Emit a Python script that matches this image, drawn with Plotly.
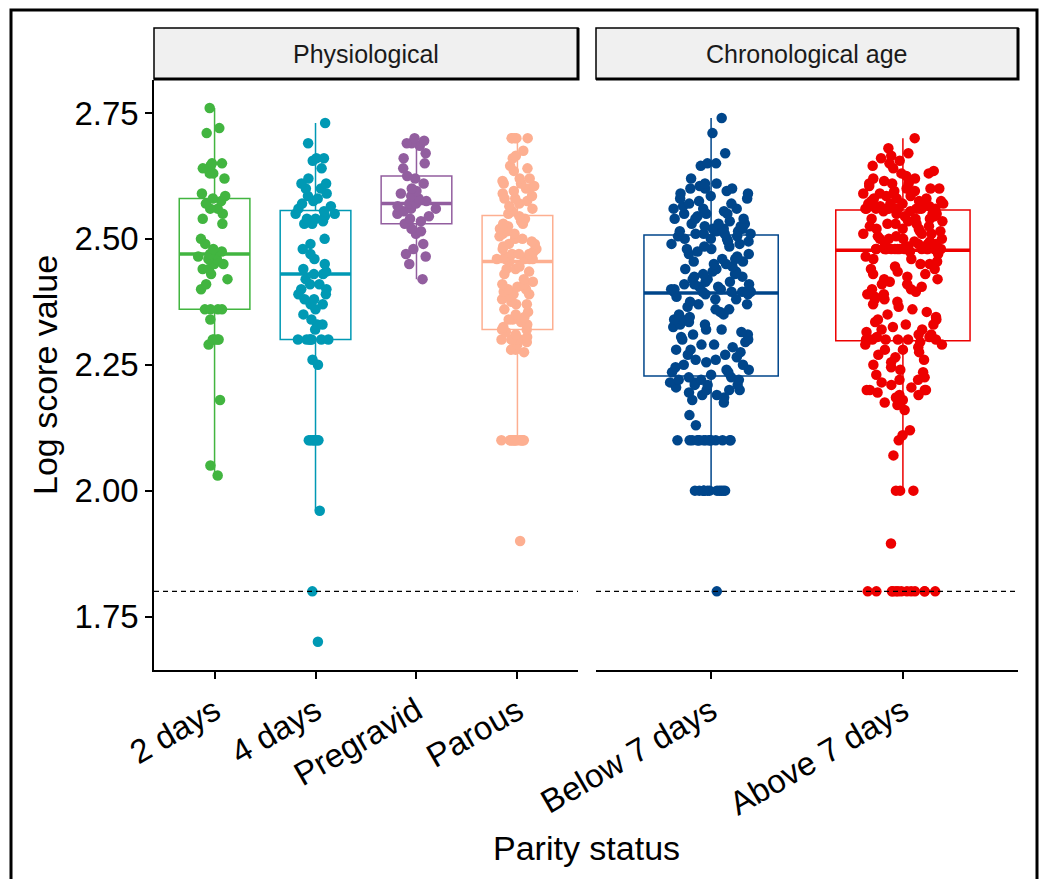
import numpy as np
import plotly.graph_objects as go

# ---------------- data ----------------
physio_groups = ["2 days", "4 days", "Pregravid", "Parous"]
chrono_groups = ["Below 7 days", "Above 7 days"]
tick_vals = [1.75, 2.00, 2.25, 2.50, 2.75]
tick_text = ["1.75", "2.00", "2.25", "2.50", "2.75"]
threshold = 1.8

days2 = [2.76, 2.72, 2.71, 2.65, 2.65, 2.645, 2.64, 2.63, 2.63, 2.62, 2.59, 2.585, 2.58,
         2.575, 2.57, 2.56, 2.56, 2.55, 2.54, 2.53, 2.50, 2.49, 2.48, 2.475, 2.47, 2.47,
         2.465, 2.46, 2.46, 2.45, 2.45, 2.44, 2.44, 2.43, 2.42, 2.41, 2.40, 2.36, 2.36,
         2.36, 2.36, 2.34, 2.30, 2.30, 2.30, 2.30, 2.29, 2.18, 2.05, 2.03]

days4 = [2.73, 2.69, 2.66, 2.66, 2.655, 2.64, 2.62, 2.61, 2.61, 2.60,
         2.60, 2.59, 2.585, 2.58, 2.575, 2.57, 2.565, 2.56, 2.555, 2.55,
         2.55, 2.545, 2.54, 2.54, 2.535, 2.53, 2.53, 2.50, 2.49, 2.48,
         2.47, 2.46, 2.45, 2.44, 2.435, 2.43, 2.43, 2.42, 2.41, 2.41,
         2.40, 2.40, 2.39, 2.39, 2.38, 2.38, 2.37, 2.37, 2.36, 2.35,
         2.34, 2.33, 2.33, 2.32, 2.30, 2.30, 2.30, 2.30, 2.30, 2.30,
         2.30, 2.26, 2.25, 2.10, 2.10, 2.10, 2.10, 2.10, 2.10, 2.10,
         1.96, 1.80, 1.70]

pregravid = [2.70, 2.695, 2.69, 2.69, 2.685, 2.67, 2.66, 2.65, 2.64, 2.625, 2.62, 2.61,
             2.60, 2.595, 2.59, 2.585, 2.58, 2.575, 2.57, 2.57, 2.565, 2.56, 2.56, 2.555,
             2.55, 2.545, 2.54, 2.535, 2.53, 2.52, 2.515, 2.51, 2.49, 2.48, 2.47, 2.465,
             2.45, 2.42]

parous = [2.70, 2.70, 2.70, 2.70, 2.70, 2.675, 2.665, 2.66, 2.645, 2.64, 2.635, 2.62,
          2.62, 2.615, 2.61, 2.61, 2.605, 2.60, 2.60, 2.595, 2.59, 2.585, 2.58, 2.58,
          2.575, 2.57, 2.565, 2.56, 2.555, 2.55, 2.545,
          2.54, 2.535, 2.53, 2.53, 2.525, 2.52, 2.52, 2.515, 2.51, 2.51, 2.505, 2.50,
          2.50, 2.495, 2.49, 2.49, 2.485, 2.48, 2.48, 2.475, 2.47, 2.47, 2.47, 2.465,
          2.46, 2.46, 2.46, 2.46, 2.46, 2.455,
          2.445, 2.44, 2.44, 2.435, 2.43, 2.42, 2.415, 2.41, 2.41, 2.405, 2.40, 2.40,
          2.395, 2.39, 2.39, 2.385, 2.38, 2.375, 2.37, 2.37, 2.36, 2.355, 2.35, 2.345,
          2.34, 2.34, 2.335, 2.33, 2.325, 2.32,
          2.32, 2.315, 2.31, 2.305, 2.30, 2.30, 2.30, 2.30, 2.30, 2.295, 2.29, 2.285,
          2.28, 2.28, 2.275, 2.10, 2.10, 2.10, 2.10, 2.10, 2.10, 2.10, 2.10, 2.10,
          2.10, 2.10, 2.10, 2.10, 2.10, 1.90]

below7 = [2.74, 2.71, 2.67, 2.65, 2.65, 2.645, 2.62, 2.61, 2.61, 2.605,
          2.60, 2.60, 2.60, 2.595, 2.59, 2.59, 2.585, 2.58, 2.58, 2.575,
          2.57, 2.57, 2.565, 2.56, 2.56, 2.56, 2.555, 2.55, 2.55, 2.55,
          2.545, 2.54, 2.54, 2.54, 2.535, 2.53, 2.53, 2.53, 2.525, 2.525,
          2.52, 2.52, 2.52, 2.515, 2.515, 2.515, 2.51, 2.51, 2.51, 2.51,
          2.505, 2.505, 2.50, 2.50, 2.50, 2.495, 2.495, 2.49, 2.49, 2.485,
          2.485, 2.48, 2.48, 2.475, 2.47, 2.47, 2.465, 2.46, 2.46, 2.455,
          2.455, 2.45, 2.45, 2.445, 2.44, 2.44, 2.435, 2.435, 2.43, 2.43,
          2.425, 2.425, 2.42, 2.42, 2.415, 2.415, 2.41, 2.41, 2.41, 2.405,
          2.405, 2.40, 2.40, 2.40, 2.40, 2.395, 2.395, 2.395, 2.395, 2.395,
          2.39, 2.39, 2.385, 2.38, 2.38, 2.375, 2.37, 2.37, 2.365, 2.36,
          2.36, 2.355, 2.35, 2.35, 2.345, 2.34, 2.34, 2.335, 2.33, 2.33,
          2.325, 2.32, 2.32, 2.315, 2.31, 2.31, 2.305, 2.30, 2.30, 2.295,
          2.29, 2.29, 2.285, 2.28, 2.28, 2.275, 2.27, 2.27, 2.265, 2.26,
          2.26, 2.255, 2.25, 2.25, 2.245, 2.24, 2.24, 2.235, 2.235, 2.23,
          2.225, 2.225, 2.22, 2.22, 2.22, 2.215, 2.215, 2.21, 2.21, 2.21,
          2.205, 2.20, 2.20, 2.20, 2.195, 2.19, 2.19, 2.185, 2.18, 2.175,
          2.15, 2.13, 2.10, 2.10, 2.10, 2.10, 2.10, 2.10, 2.10, 2.10,
          2.10, 2.10, 2.10, 2.10, 2.10, 2.10, 2.10, 2.00, 2.00, 2.00,
          2.00, 2.00, 2.00, 2.00, 2.00, 2.00, 2.00, 2.00, 2.00, 1.80]

above7 = [2.70, 2.68, 2.67, 2.665, 2.66, 2.655, 2.65, 2.645, 2.64, 2.635,
          2.63, 2.63, 2.625, 2.62, 2.62, 2.615, 2.61, 2.61, 2.61, 2.605,
          2.60, 2.60, 2.60, 2.595, 2.595, 2.59, 2.59, 2.59, 2.585, 2.585,
          2.58, 2.58, 2.58, 2.575, 2.575, 2.575, 2.57, 2.57, 2.57, 2.57,
          2.565, 2.565, 2.565, 2.565, 2.56, 2.56, 2.56, 2.56, 2.56, 2.56,
          2.56, 2.56, 2.56, 2.56, 2.56,
          2.555, 2.555, 2.55, 2.55, 2.55, 2.545, 2.545, 2.54, 2.54, 2.54,
          2.535, 2.535, 2.53, 2.53, 2.53, 2.525, 2.525, 2.52, 2.52, 2.52,
          2.515, 2.515, 2.51, 2.51, 2.51, 2.505, 2.505, 2.50, 2.50, 2.50,
          2.50, 2.495, 2.495, 2.49, 2.49, 2.49, 2.49, 2.485, 2.485, 2.485,
          2.48, 2.48, 2.48, 2.48, 2.48, 2.48, 2.48, 2.48, 2.48, 2.48,
          2.48, 2.48, 2.48, 2.48, 2.48,
          2.475, 2.47, 2.465, 2.46, 2.46, 2.455, 2.45, 2.45, 2.445, 2.44,
          2.44, 2.435, 2.43, 2.43, 2.425, 2.42, 2.42, 2.415, 2.41, 2.41,
          2.405, 2.40, 2.40, 2.395, 2.39, 2.39, 2.385, 2.38, 2.38, 2.375,
          2.37, 2.365, 2.36, 2.355, 2.35, 2.345, 2.34, 2.34, 2.335, 2.33,
          2.33, 2.325, 2.32, 2.32, 2.315, 2.31, 2.31, 2.305, 2.305, 2.30,
          2.30, 2.30, 2.30, 2.30, 2.30,
          2.295, 2.29, 2.29, 2.285, 2.28, 2.28, 2.275, 2.27, 2.265, 2.26,
          2.255, 2.25, 2.245, 2.24, 2.235, 2.23, 2.225, 2.22, 2.22, 2.215,
          2.21, 2.205, 2.20, 2.20, 2.20, 2.20, 2.195, 2.19, 2.19, 2.185,
          2.18, 2.175, 2.17, 2.16, 2.12, 2.11, 2.10, 2.07, 2.00, 2.00,
          2.00, 1.895, 1.80, 1.80, 1.80, 1.80, 1.80, 1.80, 1.80, 1.80,
          1.80, 1.80, 1.80, 1.80, 1.80]

physio_values = [days2, days4, pregravid, parous]
chrono_values = [below7, above7]
physio_colors = ["#42B540", "#0099B4", "#925E9F", "#FDAF91"]
chrono_colors = ["#00468B", "#ED0000"]

FONT = "Liberation Sans, Arial, sans-serif"
BOX_W = 0.7

fig = go.Figure()
shapes = []


def add_panel(groups, values, colors, xa):
    for i, (g, v, c) in enumerate(zip(groups, values, colors)):
        fig.add_trace(go.Box(
            x=[g] * len(v), y=v, name=g, xaxis=xa, yaxis="y",
            boxpoints="all", jitter=0.62, pointpos=0, whiskerwidth=0, width=BOX_W,
            fillcolor="rgba(0,0,0,0)", line=dict(color=c, width=1.5),
            marker=dict(color=c, size=10.5, opacity=1, line=dict(width=0)),
            quartilemethod="linear", showlegend=False, hoverinfo="y",
        ))
        med = float(np.median(v))
        shapes.append(dict(type="line", xref=xa, yref="y", x0=i - BOX_W / 2, x1=i + BOX_W / 2,
                           y0=med, y1=med, line=dict(color=c, width=3.5), layer="below"))


add_panel(physio_groups, physio_values, physio_colors, "x")
add_panel(chrono_groups, chrono_values, chrono_colors, "x2")

# threshold dashed lines
for xa in ["x", "x2"]:
    shapes.append(dict(type="line", xref=f"{xa} domain", yref="y", x0=0, x1=1,
                       y0=threshold, y1=threshold,
                       line=dict(color="black", width=1.4, dash="5px,4px"), layer="above"))

# geometry
W, H = 1040, 879
L, R, T, B = 154, 22, 80, 209
PW, PH = W - L - R, H - T - B
d1 = (578 - L) / PW
d2 = (596 - L) / PW


def px(xp):
    return (xp - L) / PW


def py(yp):
    return (H - B - yp) / PH


# strip headers
strip_titles = ["Physiological", "Chronological age"]
strip_dom = [(0, d1), (d2, 1)]
annotations = []
for title, (a, b) in zip(strip_titles, strip_dom):
    shapes.append(dict(type="rect", xref="paper", yref="paper", x0=a, x1=b,
                       y0=py(79), y1=py(28), fillcolor="#F0F0F0",
                       line=dict(color="black", width=1.5), layer="above"))
    shapes.append(dict(type="path", xref="paper", yref="paper",
                       path=f"M {a},{py(79)} L {b},{py(79)} L {b},{py(28)}",
                       line=dict(color="black", width=3), layer="above"))
    annotations.append(dict(text=title, xref="paper", yref="paper", x=(a + b) / 2,
                            y=py(54), showarrow=False, xanchor="center", yanchor="middle",
                            font=dict(family=FONT, size=25, color="#1a1a1a")))

# outer frame
shapes.append(dict(type="rect", xref="paper", yref="paper", x0=px(11), x1=px(1037),
                   y0=py(890), y1=py(10), line=dict(color="black", width=3),
                   fillcolor="rgba(0,0,0,0)", layer="above"))

# axis titles
annotations.append(dict(text="Parity status", xref="paper", yref="paper", x=0.5, y=py(848),
                        showarrow=False, xanchor="center", yanchor="middle",
                        font=dict(family=FONT, size=34, color="black")))
annotations.append(dict(text="Log score value", xref="paper", yref="paper", x=px(45), y=0.5,
                        showarrow=False, xanchor="center", yanchor="middle", textangle=-90,
                        font=dict(family=FONT, size=34, color="black")))

xcommon = dict(type="category", showline=True, linecolor="black", linewidth=1.5,
               ticks="outside", ticklen=7, tickwidth=1.5, tickcolor="black",
               tickangle=-30, showgrid=False, zeroline=False,
               tickfont=dict(family=FONT, size=33, color="black"))

fig.update_layout(
    width=W, height=H,
    margin=dict(l=L, r=R, t=T, b=B),
    paper_bgcolor="white", plot_bgcolor="white",
    boxmode="overlay",
    xaxis=dict(domain=[0, d1], range=[-0.6, 3.6], categoryorder="array",
               categoryarray=physio_groups, anchor="y", **xcommon),
    xaxis2=dict(domain=[d2, 1], range=[-0.6, 1.6], categoryorder="array",
                categoryarray=chrono_groups, anchor="y", **xcommon),
    yaxis=dict(range=[1.6438, 2.8155], tickvals=tick_vals, ticktext=tick_text,
               showline=True, linecolor="black", linewidth=1.5, ticks="outside",
               ticklen=7, tickwidth=1.5, tickcolor="black", showgrid=False, zeroline=False,
               tickfont=dict(family=FONT, size=33, color="black"), anchor="x"),
    shapes=shapes,
    annotations=annotations,
    font=dict(family=FONT),
)

fig.write_html("out.html")
